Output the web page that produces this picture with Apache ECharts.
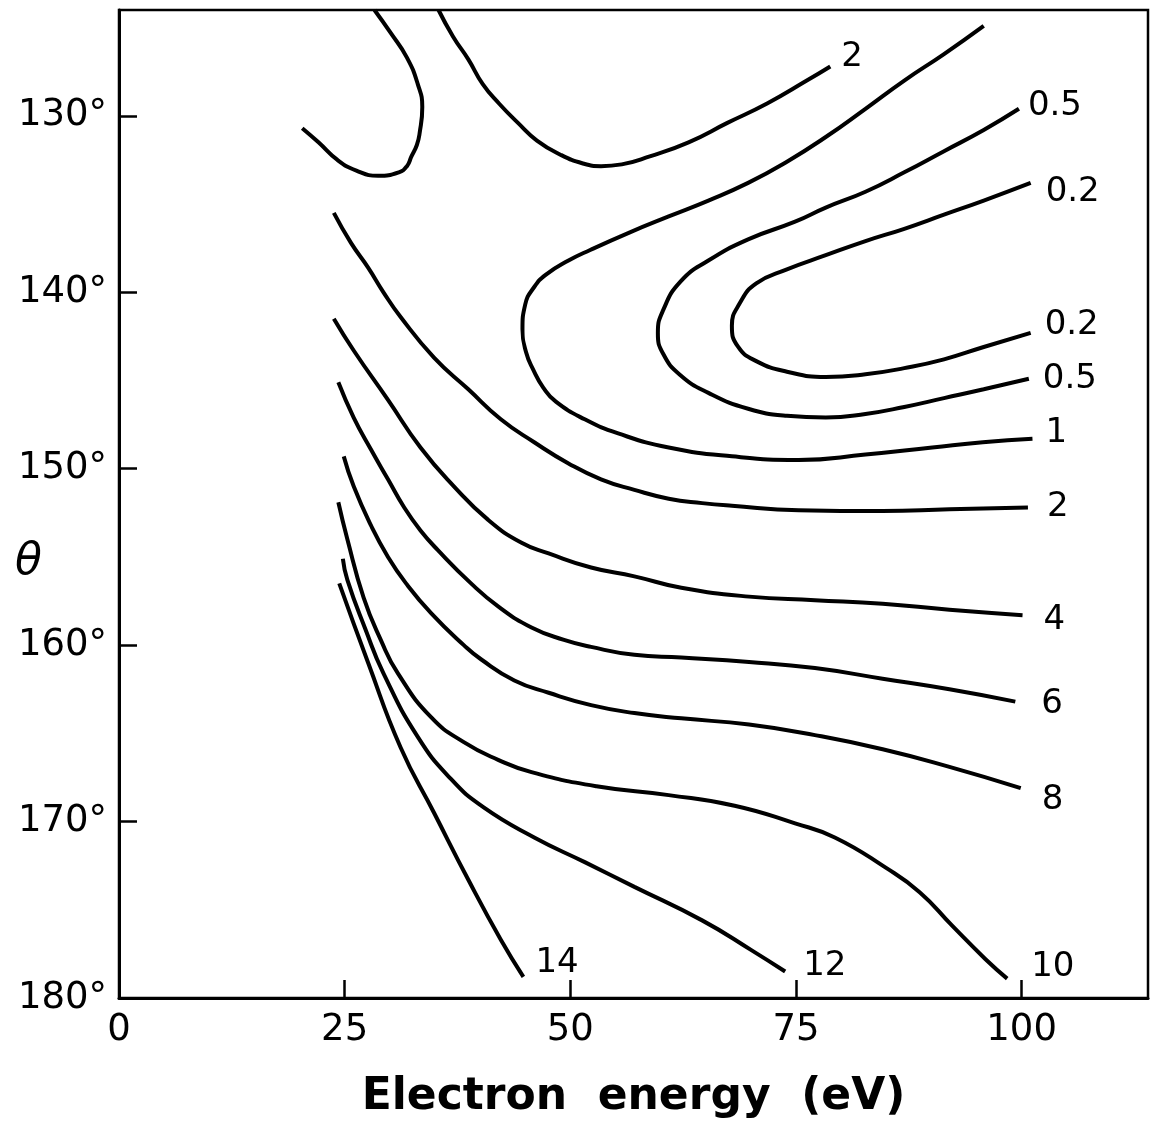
<!DOCTYPE html>
<html>
<head>
<meta charset="utf-8">
<title>Electron energy contours</title>
<script src="https://cdn.jsdelivr.net/npm/echarts@6/dist/echarts.min.js"></script>
<style>
html, body { margin: 0; padding: 0; background: #fff; }
#chart { width: 1164px; height: 1126px; }
</style>
</head>
<body>
<div id="chart"></div>
<script>
// tick values on both axes
var xTicks = [0, 25, 50, 75, 100];
var yTicks = [130, 140, 150, 160, 170, 180];

// contour lines, points are [energy (eV), theta (deg)]
var loop2 = [[20.3,130.7],[22.1,131.5],[24.2,132.5],[26.3,133.1],[28.7,133.4],[31.0,133.2],[31.9,132.85],[32.4,132.3],[33.0,131.65],[33.3,131.0],[33.6,129.5],[33.1,128.2],[31.9,126.7],[30.1,125.3],[28.3,124.0]];
var upper2 = [[35.4,124.0],[37.0,125.5],[38.7,126.8],[40.3,128.2],[42.1,129.3],[44.2,130.4],[46.3,131.4],[48.9,132.2],[51.4,132.7],[53.4,132.85],[55.7,132.75],[58.8,132.3],[63.1,131.5],[67.4,130.4],[71.8,129.3],[76.2,128.0],[78.8,127.2]];
var line1 = [[95.8,124.9],[91.4,126.5],[87.0,128.0],[82.7,129.6],[78.3,131.2],[74.0,132.6],[69.7,133.8],[65.3,134.8],[60.9,135.7],[56.6,136.6],[52.2,137.6],[49.8,138.2],[47.3,139.0],[46.0,139.7],[45.0,140.7],[44.7,142.1],[45.1,143.4],[45.9,144.4],[47.0,145.4],[48.4,146.2],[51.6,147.2],[55.3,148.0],[60.9,148.8],[67.9,149.3],[75.3,149.5],[82.7,149.2],[90.1,148.8],[95.7,148.5],[101.2,148.3]];
var line05 = [[99.7,129.6],[95.8,130.8],[91.4,132.0],[87.0,133.2],[82.7,134.3],[78.3,135.2],[74.9,136.0],[69.7,137.0],[65.3,138.2],[62.2,139.4],[60.3,141.0],[59.7,142.3],[60.3,143.5],[62.2,144.7],[65.3,145.7],[69.7,146.6],[74.0,147.0],[78.3,147.1],[82.7,146.9],[87.0,146.5],[91.4,146.0],[95.8,145.5],[100.8,144.9]];
var line02 = [[101.0,133.8],[95.8,134.8],[91.4,135.6],[87.0,136.4],[82.7,137.1],[78.3,137.9],[74.0,138.7],[70.6,139.5],[68.8,140.6],[67.9,141.9],[68.6,143.1],[70.6,143.9],[74.0,144.5],[78.3,144.8],[82.7,144.65],[87.0,144.3],[91.4,143.8],[95.8,143.1],[101.0,142.3]];
var lower2 = [[23.8,135.5],[25.7,137.2],[27.6,138.6],[29.3,140.0],[31.2,141.4],[34.9,143.7],[38.7,145.5],[42.3,147.2],[46.0,148.5],[49.8,149.7],[53.4,150.6],[57.1,151.2],[60.9,151.7],[64.6,151.95],[67.9,152.1],[75.3,152.35],[84.6,152.4],[92.0,152.3],[100.7,152.2]];
var line4 = [[23.8,141.5],[26.0,143.3],[29.8,146.1],[33.4,148.8],[37.1,151.0],[40.9,152.9],[44.6,154.2],[47.6,154.8],[52.3,155.6],[57.1,156.1],[62.3,156.75],[69.8,157.25],[77.1,157.45],[84.6,157.65],[92.0,158.0],[100.1,158.3]];
var line6 = [[24.3,145.1],[26.0,147.1],[27.9,148.9],[29.8,150.6],[31.6,152.2],[33.4,153.5],[35.3,154.6],[39.0,156.5],[42.0,157.8],[45.7,159.0],[49.3,159.7],[52.3,160.1],[57.1,160.55],[62.3,160.7],[69.8,160.95],[77.1,161.3],[84.6,161.9],[92.0,162.5],[99.3,163.2]];
var line8 = [[24.9,149.3],[26.0,151.0],[27.9,153.2],[29.8,155.0],[31.8,156.5],[34.6,158.2],[38.2,160.0],[40.1,160.8],[43.8,162.0],[47.6,162.7],[52.3,163.4],[57.1,163.85],[62.3,164.15],[69.8,164.5],[77.1,165.1],[84.6,165.9],[92.0,166.9],[99.9,168.1]];
var line10 = [[24.3,151.9],[25.3,154.0],[27.1,157.3],[29.0,159.7],[30.9,161.6],[34.6,164.1],[38.2,165.5],[42.0,166.5],[45.7,167.2],[52.9,168.0],[60.9,168.5],[68.2,169.1],[74.9,170.1],[79.3,170.9],[84.9,172.6],[88.7,174.0],[92.3,175.9],[96.0,177.8],[98.4,178.9]];
var line12 = [[24.8,155.1],[25.3,156.3],[27.3,159.1],[29.3,161.6],[33.1,165.2],[36.8,167.6],[40.4,169.2],[46.0,170.9],[51.6,172.3],[57.1,173.7],[64.6,175.6],[70.1,177.3],[73.8,178.5]];
var line14 = [[24.4,156.5],[27.6,161.0],[31.2,165.8],[34.9,169.5],[38.7,173.3],[42.3,176.7],[44.8,178.8]];

var font = 'DejaVu Sans';

function contour(data, endText, endOffset, startText, startOffset) {
    var s = {
        type: 'line',
        data: data,
        smooth: 0.5,
        symbol: 'none',
        silent: true,
        lineStyle: { color: '#000', width: 4 }
    };
    if (endText) {
        s.endLabel = {
            show: true,
            formatter: endText,
            distance: 0,
            offset: endOffset,
            align: 'left',
            verticalAlign: 'middle',
            color: '#000',
            fontFamily: font,
            fontSize: 34
        };
    }
    // label on the first point too (curves labelled at both tips)
    if (startText) {
        s.markPoint = {
            symbol: 'circle',
            symbolSize: 0,
            silent: true,
            label: {
                show: true,
                position: 'right',
                distance: 0,
                formatter: startText,
                offset: startOffset,
                color: '#000',
                fontFamily: font,
                fontSize: 34
            },
            data: [{ coord: data[0] }]
        };
    }
    return s;
}

var myChart = echarts.init(document.getElementById('chart'));

var option = {
    animation: false,
    backgroundColor: '#fff',
    title: {
        text: 'θ',
        left: 10,
        top: 536,
        textStyle: { fontFamily: font, fontStyle: 'italic', fontWeight: 'normal', fontSize: 44, color: '#000' }
    },
    grid: {
        left: 119,
        right: 16,
        top: 10,
        bottom: 128,
        show: true,
        borderColor: '#000',
        borderWidth: 2.5,
        containLabel: false
    },
    xAxis: {
        type: 'value',
        min: 0,
        max: 114,
        name: 'Electron  energy  (eV)',
        nameLocation: 'middle',
        nameGap: 78,
        nameTextStyle: { fontFamily: font, fontWeight: 'bold', fontSize: 44, color: '#000' },
        splitLine: { show: false },
        axisLine: { lineStyle: { color: '#000', width: 3 } },
        axisTick: { inside: true, length: 18, customValues: xTicks.slice(1), lineStyle: { color: '#000', width: 2.5 } },
        axisLabel: { customValues: xTicks, margin: 14, fontFamily: font, fontSize: 37, color: '#000' }
    },
    yAxis: {
        type: 'value',
        inverse: true,
        min: 124,
        max: 180,
        splitLine: { show: false },
        axisLine: { lineStyle: { color: '#000', width: 3 } },
        axisTick: { inside: true, length: 18, customValues: yTicks, lineStyle: { color: '#000', width: 2.5 } },
        axisLabel: {
            customValues: yTicks,
            margin: 12,
            fontFamily: font,
            fontSize: 37,
            color: '#000',
            formatter: function (v) { return v + '°'; }
        }
    },
    series: [
        contour(loop2),
        contour(upper2, '2', [11, -9]),
        contour(line1, '1', [13, -6]),
        contour(line05, '0.5', [14, 0], '0.5', [9, -3]),
        contour(line02, '0.2', [14, -8], '0.2', [15, 9]),
        contour(lower2, '2', [19, 0]),
        contour(line4, '4', [21, 5]),
        contour(line6, '6', [26, 3]),
        contour(line8, '8', [21, 12]),
        contour(line10, '10', [24, -11]),
        contour(line12, '12', [18, -5]),
        contour(line14, '14', [12, -14])
    ]
};

myChart.setOption(option);
</script>
</body>
</html>
